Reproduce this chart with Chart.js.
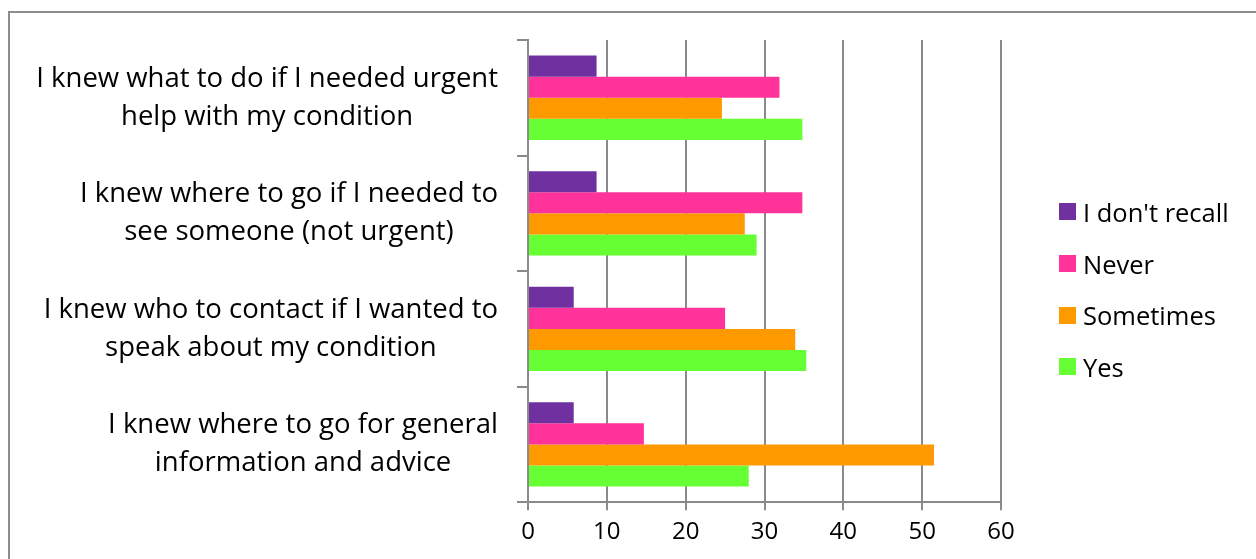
<!DOCTYPE html>
<html>
<head>
<meta charset="utf-8">
<script src="https://cdn.jsdelivr.net/npm/chart.js@4"></script>
<style>
  html, body { margin: 0; padding: 0; background: #fff; }
  #frame { position: absolute; left: 8px; top: 11px; width: 1300px; height: 600px;
           border-left: 2px solid #8c8c8c; border-top: 2px solid #8c8c8c; }
  #wrap { position: absolute; left: 0; top: 0; width: 1256px; height: 559px; }
  #legend { position: absolute; left: 1059px; top: 186px; margin: 0; padding: 0; list-style: none;
            font-family: "Open Sans", sans-serif; font-size: 25.5px; color: #000; }
  #legend li { height: 51.7px; display: flex; align-items: center; white-space: nowrap; }
  #legend span { display: inline-block; width: 17px; height: 17px; margin-right: 7px; }
</style>
</head>
<body>
<div id="frame"></div>
<div id="wrap"><canvas id="myChart" width="1256" height="559"></canvas></div>
<ul id="legend"></ul>
<script>
const categories = [
    ['I knew what to do if I needed urgent', 'help with my condition'],
    ['I knew where to go if I needed to', 'see someone (not urgent)'],
    ['I knew who to contact if I wanted to', 'speak about my condition'],
    ['I knew where to go for general', 'information and advice']
];
const dontRecall = [8.7, 8.7, 5.8, 5.8];
const never = [31.9, 34.8, 25.0, 14.7];
const sometimes = [24.6, 27.5, 33.9, 51.5];
const yes = [34.8, 29.0, 35.3, 28.0];
const xTicks = [0, 10, 20, 30, 40, 50, 60];

const fontFamily = '"Open Sans", sans-serif';
const gridColor = '#8a8a8a';

//category labels, each line centred inside its own block, block right aligned
const categoryLabels = {
    id: 'categoryLabels',
    afterDraw(chart) {
        const ctx = chart.ctx;
        const yScale = chart.scales.y;
        const right = yScale.right - 30;
        const lineH = 38;
        ctx.save();
        ctx.font = '27.5px ' + fontFamily;
        ctx.fillStyle = '#000';
        ctx.textAlign = 'center';
        ctx.textBaseline = 'middle';
        categories.forEach((lines, i) => {
            const y = yScale.getPixelForTick(i);
            let widest = 0;
            lines.forEach(l => { widest = Math.max(widest, ctx.measureText(l).width); });
            const cx = right - widest / 2;
            lines.forEach((l, j) => {
                ctx.fillText(l, cx, y + (j - (lines.length - 1) / 2) * lineH);
            });
        });
        ctx.restore();
    }
};

const ctx = document.getElementById('myChart').getContext('2d');
const myChart = new Chart(ctx, {
    type: 'bar',
    data: {
        labels: categories,
        datasets: [
            { label: "I don't recall", data: dontRecall, backgroundColor: '#7030A0' },
            { label: 'Never', data: never, backgroundColor: '#FF3399' },
            { label: 'Sometimes', data: sometimes, backgroundColor: '#FF9900' },
            { label: 'Yes', data: yes, backgroundColor: '#66FF33' }
        ]
    },
    plugins: [categoryLabels],
    options: {
        indexAxis: 'y',
        responsive: false,
        animation: false,
        datasets: {
            bar: { barPercentage: 1, categoryPercentage: 0.73 }
        },
        layout: {
            padding: { left: 517, top: 40, bottom: 4, right: 255 }
        },
        scales: {
            x: {
                min: 0,
                max: 60,
                afterBuildTicks: (scale) => { scale.ticks = xTicks.map(v => ({ value: v })); },
                grid: { color: gridColor, lineWidth: 2, tickLength: 8 },
                border: { color: gridColor, width: 2 },
                ticks: {
                    color: '#000',
                    padding: 8,
                    font: { family: fontFamily, size: 24 }
                }
            },
            y: {
                grid: { display: true, drawOnChartArea: false, color: gridColor, lineWidth: 2, tickLength: 11, offset: true },
                border: { color: gridColor, width: 2 },
                ticks: { display: false }
            }
        },
        plugins: {
            legend: { display: false },
            tooltip: { enabled: false }
        }
    }
});

//legend built from the chart's own datasets
const legendList = document.getElementById('legend');
myChart.data.datasets.forEach(ds => {
    const li = document.createElement('li');
    const box = document.createElement('span');
    box.style.background = ds.backgroundColor;
    li.appendChild(box);
    li.appendChild(document.createTextNode(ds.label));
    legendList.appendChild(li);
});
</script>
</body>
</html>
